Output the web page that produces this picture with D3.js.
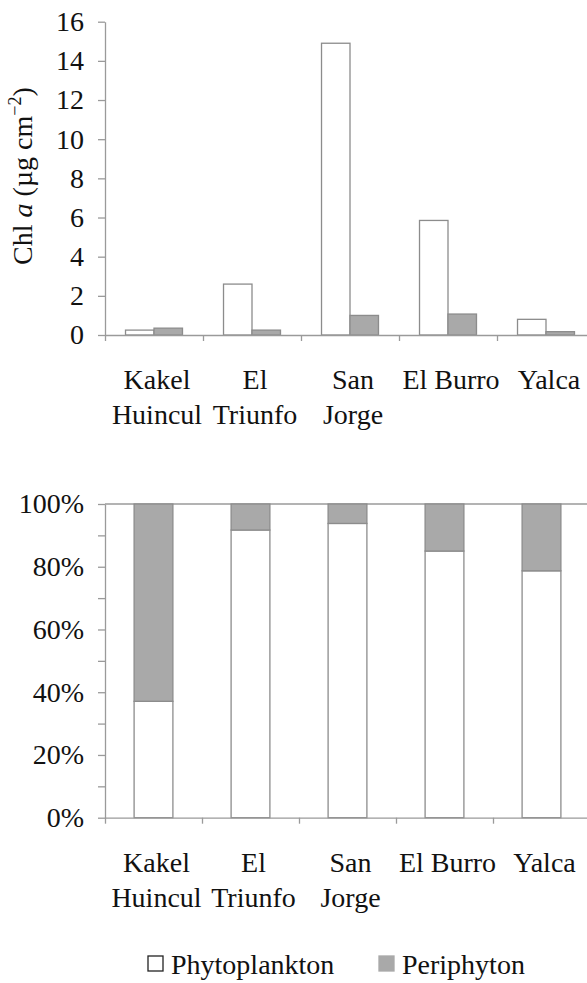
<!DOCTYPE html>
<html>
<head>
<meta charset="utf-8">
<script src="https://cdn.jsdelivr.net/npm/d3@7"></script>
<style>
  body { margin: 0; background: #fff; }
  svg { display: block; }
  text { font-family: "Liberation Serif", "Times New Roman", serif; fill: #111; }
</style>
</head>
<body>
<div id="chart"></div>
<script>
// sites, with the two-line tick labels
var sites = ["Kakel Huincul", "El Triunfo", "San Jorge", "El Burro", "Yalca"];
var siteLines = [["Kakel", "Huincul"], ["El", "Triunfo"], ["San", "Jorge"], ["El Burro"], ["Yalca"]];
var series = ["Phytoplankton", "Periphyton"];

// Chl a (ug cm-2)
var phyto = [0.25, 2.6, 14.9, 5.85, 0.8];
var peri = [0.35, 0.25, 1.0, 1.07, 0.17];

// share of phytoplankton (%)
var phytoPct = [37.1, 91.7, 93.8, 85.0, 78.7];

var chlTicks = [0, 2, 4, 6, 8, 10, 12, 14, 16];
var pctTicks = [0, 10, 20, 30, 40, 50, 60, 70, 80, 90, 100];

var axisCol = "#9a9a9a", barStroke = "#8c8c8c", periFill = "#a9a9a9";
var fs = 28;

var svg = d3.select("#chart").append("svg")
    .attr("width", 587)
    .attr("height", 983);

function catLabels(x, y0) {
  siteLines.forEach(function(lines, i) {
    var t = svg.append("text")
        .attr("text-anchor", "middle")
        .attr("font-size", fs)
        .attr("x", x(sites[i]) + x.bandwidth() / 2 + 3)
        .attr("y", y0 + 54);
    lines.forEach(function(l, j) {
      t.append("tspan")
        .attr("x", x(sites[i]) + x.bandwidth() / 2 + 3)
        .attr("dy", j == 0 ? 0 : 35)
        .text(l);
    });
  });
}

function styleAxis(g) {
  g.selectAll("path, line").attr("stroke", axisCol).attr("stroke-width", 1.3);
  g.selectAll("text").attr("font-size", fs).attr("fill", "#111")
    .attr("font-family", "Liberation Serif, Times New Roman, serif");
}

// ---- top: grouped bars ----
var x1 = d3.scaleBand().domain(sites).range([105, 595]);
var xs = d3.scaleBand().domain(series).range([0, x1.bandwidth()]).paddingOuter(0.72);
var y1 = d3.scaleLinear().domain([0, 16]).range([335, 21.7]);
var xb1 = d3.scaleLinear().domain([0, 5]).range([105, 595]);

var topBars = svg.append("g");
sites.forEach(function(s, i) {
  var vals = [phyto[i], peri[i]];
  series.forEach(function(k, j) {
    topBars.append("rect")
      .attr("x", x1(s) + xs(k))
      .attr("width", xs.bandwidth())
      .attr("y", y1(vals[j]))
      .attr("height", y1(0) - y1(vals[j]))
      .attr("fill", j == 0 ? "#fff" : periFill)
      .attr("stroke", barStroke)
      .attr("stroke-width", 1.3);
  });
});

svg.append("g")
    .attr("transform", "translate(105,0)")
    .call(d3.axisLeft(y1).tickValues(chlTicks).tickSize(7).tickPadding(14).tickSizeOuter(0))
    .call(styleAxis);

svg.append("g")
    .attr("transform", "translate(0,335)")
    .call(d3.axisBottom(xb1).tickValues([0, 1, 2, 3, 4, 5]).tickSize(6).tickFormat("").tickSizeOuter(0))
    .call(styleAxis);

catLabels(x1, 335);

// y title
var yt = svg.append("text")
    .attr("transform", "translate(32,176) rotate(-90)")
    .attr("text-anchor", "middle")
    .attr("font-size", fs);
yt.append("tspan").text("Chl ");
yt.append("tspan").attr("font-style", "italic").text("a");
yt.append("tspan").text(" (\u00b5g cm");
yt.append("tspan").attr("font-size", fs * 0.65).attr("dy", -11).text("\u22122");
yt.append("tspan").attr("dy", 11).text(")");

// ---- bottom: 100% stacked ----
var x2 = d3.scaleBand().domain(sites).range([105, 590]).paddingInner(0.6).paddingOuter(0.3);
var y2 = d3.scaleLinear().domain([0, 100]).range([817.7, 504]);
var xb2 = d3.scaleLinear().domain([0, 5]).range([105, 590]);

svg.append("line")
    .attr("x1", 105).attr("x2", 587)
    .attr("y1", y2(100)).attr("y2", y2(100))
    .attr("stroke", axisCol).attr("stroke-width", 1.3);

var botBars = svg.append("g");
sites.forEach(function(s, i) {
  var parts = [[0, phytoPct[i]], [phytoPct[i], 100]];
  parts.forEach(function(p, j) {
    botBars.append("rect")
      .attr("x", x2(s))
      .attr("width", x2.bandwidth())
      .attr("y", y2(p[1]))
      .attr("height", y2(p[0]) - y2(p[1]))
      .attr("fill", j == 0 ? "#fff" : periFill)
      .attr("stroke", barStroke)
      .attr("stroke-width", 1.3);
  });
});

svg.append("g")
    .attr("transform", "translate(105,0)")
    .call(d3.axisLeft(y2).tickValues(pctTicks).tickSize(7).tickPadding(14).tickSizeOuter(0)
      .tickFormat(function(d) { return d % 20 == 0 ? d + "%" : ""; }))
    .call(styleAxis);

svg.append("g")
    .attr("transform", "translate(0,817.7)")
    .call(d3.axisBottom(xb2).tickValues([0, 1, 2, 3, 4, 5]).tickSize(6).tickFormat("").tickSizeOuter(0))
    .call(styleAxis);

catLabels(x2, 817.7);

// legend
var leg = svg.append("g").attr("transform", "translate(148,956)");
series.forEach(function(k, j) {
  var g = leg.append("g").attr("transform", "translate(" + (j * 231) + ",0)");
  g.append("rect")
    .attr("width", 15).attr("height", 15)
    .attr("fill", j == 0 ? "#fff" : periFill)
    .attr("stroke", j == 0 ? "#222" : periFill)
    .attr("stroke-width", 1.3);
  g.append("text")
    .attr("x", 23).attr("y", 18)
    .attr("font-size", fs)
    .text(k);
});
</script>
</body>
</html>
